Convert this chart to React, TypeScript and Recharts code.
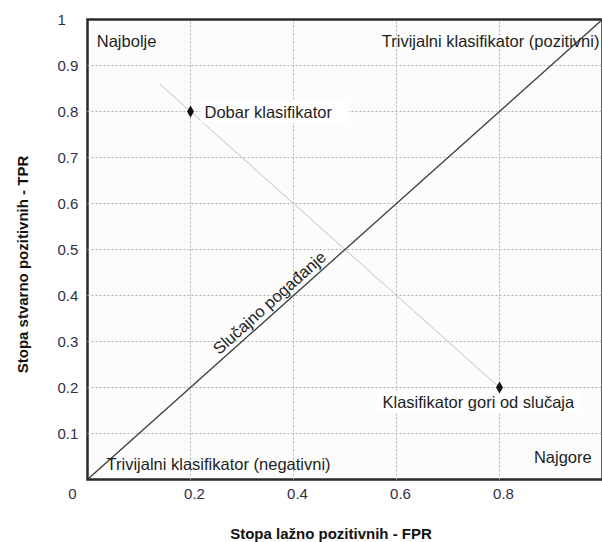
import React from 'react';
import {
  ScatterChart,
  Scatter,
  XAxis,
  YAxis,
  CartesianGrid,
  ReferenceLine,
  ReferenceArea,
} from 'recharts';

// ---- data ----
const xTicks = [0, 0.2, 0.4, 0.6, 0.8];
const yTicks = [0, 0.1, 0.2, 0.3, 0.4, 0.5, 0.6, 0.7, 0.8, 0.9, 1];
const xTickLabels = ['0', '0.2', '0.4', '0.6', '0.8'];
const yTickLabels = ['', '0.1', '0.2', '0.3', '0.4', '0.5', '0.6', '0.7', '0.8', '0.9', '1'];
const xGridValues = [0.2, 0.4, 0.6, 0.8];
const yGridValues = [0.1, 0.2, 0.3, 0.4, 0.5, 0.6, 0.7, 0.8, 0.9];

const randomGuessLine = [
  { x: 0, y: 0 },
  { x: 1, y: 1 },
];
const isoLine = [
  { x: 0.14, y: 0.86 },
  { x: 0.8, y: 0.2 },
];

const classifierPoints = [
  { x: 0.2, y: 0.8, name: 'Dobar klasifikator' },
  { x: 0.8, y: 0.2, name: 'Klasifikator gori od slučaja' },
];

const regionLabels = [
  { x: 0.018, y: 0.954, text: 'Najbolje' },
  { x: 0.994, y: 0.954, text: 'Trivijalni klasifikator (pozitivni)' },
  { x: 0.979, y: 0.048, text: 'Najgore' },
  { x: 0.037, y: 0.033, text: 'Trivijalni klasifikator (negativni)' },
  { x: 0.353, y: 0.385, text: 'Slučajno pogađanje' },
];

const xTitle = 'Stopa lažno pozitivnih - FPR';
const yTitle = 'Stopa stvarno pozitivnih - TPR';

// ---- layout / styles ----
const FONT = '"Liberation Sans", Arial, Helvetica, sans-serif';
const TEXT_COLOR = '#1e1e1e';
const TICK_COLOR = '#2f3046';
const GRID_COLOR = '#b3b3b3';
const ANNOT_SIZE = 16.5;

const regionStyle: Record<string, { anchor: 'start' | 'end' | 'middle'; rotate?: number }> = {
  'Najbolje': { anchor: 'start' },
  'Trivijalni klasifikator (pozitivni)': { anchor: 'end' },
  'Najgore': { anchor: 'end' },
  'Trivijalni klasifikator (negativni)': { anchor: 'start' },
  'Slučajno pogađanje': { anchor: 'middle', rotate: -41.8 },
};

const pointLabelStyle: Record<string, { dx: number; dy: number; boxW: number }> = {
  'Dobar klasifikator': { dx: 14, dy: 0, boxW: 148 },
  'Klasifikator gori od slučaja': { dx: -117, dy: 14, boxW: 200 },
};

const RegionLabel = (props: any) => {
  const { cx, cy, payload } = props;
  if (cx == null || cy == null) return null;
  const st = regionStyle[payload.text] || { anchor: 'start' };
  return (
    <text
      x={cx}
      y={cy}
      textAnchor={st.anchor}
      dominantBaseline="central"
      transform={st.rotate ? `rotate(${st.rotate}, ${cx}, ${cy})` : undefined}
      fontFamily={FONT}
      fontSize={ANNOT_SIZE}
      fill={TEXT_COLOR}
    >
      {payload.text}
    </text>
  );
};

const ClassifierMark = (props: any) => {
  const { cx, cy, payload } = props;
  if (cx == null || cy == null) return null;
  const st = pointLabelStyle[payload.name] || { dx: 10, dy: 0, boxW: 150 };
  const tx = cx + st.dx;
  const ty = cy + st.dy;
  return (
    <g>
      <rect x={tx - 4} y={ty - 11} width={st.boxW} height={22} fill="#ffffff" />
      <path
        d={`M${cx},${cy - 6} L${cx + 3.5},${cy} L${cx},${cy + 6} L${cx - 3.5},${cy} Z`}
        fill="#111111"
      />
      <text
        x={tx}
        y={ty}
        textAnchor="start"
        dominantBaseline="central"
        fontFamily={FONT}
        fontSize={ANNOT_SIZE}
        fill={TEXT_COLOR}
      >
        {payload.name}
      </text>
    </g>
  );
};

const XTick = (props: any) => {
  const { x, y, payload } = props;
  const i = xTicks.indexOf(payload.value);
  const label = i >= 0 ? xTickLabels[i] : String(payload.value);
  const px = payload.value === 0 ? x - 15 : x + 4;
  return (
    <text
      x={px}
      y={y + 14}
      textAnchor="middle"
      dominantBaseline="central"
      fontFamily={FONT}
      fontSize={15}
      fill={TICK_COLOR}
    >
      {label}
    </text>
  );
};

const YTick = (props: any) => {
  const { x, y, payload } = props;
  const i = yTicks.indexOf(payload.value);
  const label = i >= 0 ? yTickLabels[i] : String(payload.value);
  if (!label) return null;
  return (
    <text
      x={x - 30}
      y={y}
      textAnchor="start"
      dominantBaseline="central"
      fontFamily={FONT}
      fontSize={15}
      fill={TICK_COLOR}
    >
      {label}
    </text>
  );
};

const XTitle = (props: any) => {
  const vb = props.viewBox || { x: 0, y: 0, width: 0, height: 0 };
  return (
    <text
      x={vb.x + vb.width / 2 - 14}
      y={vb.y + 54}
      textAnchor="middle"
      dominantBaseline="central"
      fontFamily={FONT}
      fontWeight="bold"
      fontSize={15}
      fill="#111111"
    >
      {xTitle}
    </text>
  );
};

const YTitle = (props: any) => {
  const vb = props.viewBox || { x: 0, y: 0, width: 0, height: 0 };
  const cx = vb.x + 14;
  const cy = vb.y + vb.height / 2 + 15;
  return (
    <text
      x={cx}
      y={cy}
      textAnchor="middle"
      dominantBaseline="central"
      transform={`rotate(-90, ${cx}, ${cy})`}
      fontFamily={FONT}
      fontWeight="bold"
      fontSize={15}
      fill="#111111"
    >
      {yTitle}
    </text>
  );
};

export default function App() {
  return (
    <div
      style={{
        width: 602,
        height: 542,
        boxSizing: 'border-box',
        padding: '8px 0 0 8px',
        overflow: 'hidden',
        background: '#ffffff',
      }}
    >
      <style>{'html{overflow:hidden;} body{margin:0;}'}</style>
      <ScatterChart
        width={600}
        height={534}
        margin={{ top: 11.5, right: 5.5, bottom: 0, left: 0.5 }}
      >
        <CartesianGrid horizontal={false} vertical={false} fill="#fcfcfc" />
        <XAxis
          type="number"
          dataKey="x"
          domain={[0, 1]}
          ticks={xTicks}
          height={62.5}
          axisLine={false}
          tickLine={false}
          tickSize={0}
          tickMargin={0}
          tick={<XTick />}
          interval={0}
          allowDataOverflow
          label={<XTitle />}
        />
        <YAxis
          type="number"
          dataKey="y"
          domain={[0, 1]}
          ticks={yTicks}
          width={79}
          axisLine={false}
          tickLine={false}
          tickSize={0}
          tickMargin={0}
          tick={<YTick />}
          interval={0}
          allowDataOverflow
          label={<YTitle />}
        />
        {yGridValues.map((v) => (
          <ReferenceLine
            key={`gy${v}`}
            y={v}
            stroke={GRID_COLOR}
            strokeWidth={1}
            strokeDasharray="2 2"
          />
        ))}
        {xGridValues.map((v) => (
          <ReferenceLine
            key={`gx${v}`}
            x={v}
            stroke={GRID_COLOR}
            strokeWidth={1}
            strokeDasharray="2 2"
          />
        ))}
        <ReferenceLine
          segment={isoLine}
          stroke="#c2c2c2"
          strokeWidth={1}
          ifOverflow="visible"
        />
        <ReferenceLine
          segment={randomGuessLine}
          stroke="#3a3a3a"
          strokeWidth={1.3}
          ifOverflow="visible"
        />
        <Scatter
          data={regionLabels}
          shape={(p: any) => <RegionLabel {...p} />}
          isAnimationActive={false}
        />
        <Scatter
          data={classifierPoints}
          shape={(p: any) => <ClassifierMark {...p} />}
          isAnimationActive={false}
        />
        <ReferenceArea
          x1={0}
          x2={1}
          y1={0}
          y2={1}
          fill="none"
          fillOpacity={0}
          stroke="#2a2a2a"
          strokeWidth={2.5}
          ifOverflow="visible"
        />
      </ScatterChart>
    </div>
  );
}
